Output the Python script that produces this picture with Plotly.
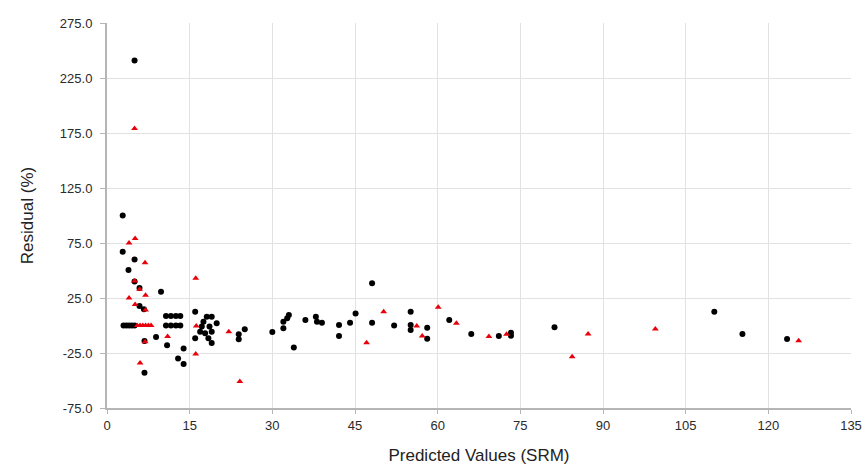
import plotly.graph_objects as go

# Series 1 (black circles): predicted value vs residual (%)
black_x = [2.85, 5.0, 2.85, 5.0, 3.9, 5.0, 5.9, 5.9, 6.7, 9.8,
           3.0, 3.5, 4.0, 4.5, 5.0,
           10.7, 11.6, 12.5, 13.3,
           10.7, 11.6, 12.5, 13.3,
           6.8, 8.9, 10.9, 12.9, 13.9, 13.9, 6.8,
           16.0, 16.0,
           18.1, 19.0, 17.5, 19.9, 17.2, 18.6, 16.9, 17.8, 19.0, 18.4, 19.0,
           23.9, 23.9, 25.0,
           30.0, 32.0, 32.0, 32.7, 33.0, 33.9,
           36.0, 37.9, 38.1, 39.0,
           42.1, 42.1, 44.1, 45.1, 48.1, 48.1, 52.1, 55.1, 55.1, 55.1,
           58.1, 58.1, 62.1, 66.1, 71.1, 73.3, 73.3, 81.2,
           110.2, 115.3, 123.4]
black_y = [100.0, 241.0, 67.0, 60.0, 50.5, 40.0, 34.0, 17.7, 14.7, 30.7,
           0.0, 0.0, 0.0, 0.0, 0.0,
           0.0, 0.0, 0.0, 0.0,
           8.6, 8.6, 8.6, 8.6,
           -14.0, -10.5, -18.0, -30.0, -21.0, -35.0, -43.0,
           12.5, -11.6,
           8.0, 8.0, 3.5, 2.0, -1.0, -1.0, -5.6, -7.0, -5.6, -11.6, -16.0,
           -8.0, -12.5, -3.5,
           -6.0, -2.5, 3.5, 6.5, 9.5, -20.0,
           5.0, 8.0, 3.5, 2.5,
           0.5, -9.5, 2.5, 11.0, 38.3, 2.5, 0.0, 12.5, 0.5, -4.0,
           -2.0, -12.0, 5.0, -7.7, -9.5, -6.5, -9.3, -1.7,
           12.5, -7.7, -12.3]

# Series 2 (red triangles)
red_x = [5.0, 4.0, 5.1, 6.9, 5.0, 5.9, 16.1, 4.0, 5.1, 7.0, 7.0,
         5.5, 6.0, 6.5, 7.0, 7.5, 8.0,
         6.9, 11.0, 16.2, 16.1, 6.0, 24.1, 22.1,
         47.1, 50.2, 56.2, 57.2, 60.1, 63.4, 69.3, 72.5,
         84.4, 87.3, 99.5, 125.5]
red_y = [179.0, 75.0, 79.0, 57.0, 40.5, 33.0, 43.0, 25.0, 19.0, 27.5, 14.0,
         0.0, 0.0, 0.0, 0.0, 0.0, 0.0,
         -14.7, -10.0, -0.5, -26.0, -34.0, -51.0, -5.6,
         -15.6, 12.5, -0.5, -9.5, 16.5, 2.0, -10.0, -8.0,
         -28.3, -7.7, -3.2, -13.8]

x_ticks = list(range(0, 136, 15))
y_ticks = [-75, -25, 25, 75, 125, 175, 225, 275]

fig = go.Figure()
fig.add_trace(go.Scatter(
    x=black_x, y=black_y, mode="markers",
    marker=dict(symbol="circle", size=6, color="#000000"),
    showlegend=False,
))
fig.add_trace(go.Scatter(
    x=red_x, y=red_y, mode="markers",
    marker=dict(symbol="triangle-up", size=6, color="#e8000b"),
    showlegend=False,
))

font_family = "Liberation Sans, Arial, sans-serif"

fig.update_layout(
    width=866, height=471,
    margin=dict(l=107, r=15, t=23, b=63),
    paper_bgcolor="white", plot_bgcolor="white",
    font=dict(family=font_family, color="#333333"),
    xaxis=dict(
        range=[0, 135], tickvals=x_ticks, ticktext=[str(v) for v in x_ticks],
        automargin=False,
        showgrid=True, gridcolor="#e2e2e2", gridwidth=1,
        showline=True, linecolor="#b5b5b5", linewidth=2, mirror=False,
        ticks="outside", ticklen=4, tickcolor="#b5b5b5",
        tickfont=dict(size=13, color="#2a2a2a"),
        title=dict(text="Predicted Values (SRM)", font=dict(size=17, color="#222222"), standoff=18),
        zeroline=False,
    ),
    yaxis=dict(
        range=[-75, 275], tickvals=y_ticks, ticktext=[f"{v:.1f}" for v in y_ticks],
        automargin=False,
        showgrid=True, gridcolor="#e2e2e2", gridwidth=1,
        showline=True, linecolor="#b5b5b5", linewidth=2,
        ticks="outside", ticklen=5, tickcolor="#b5b5b5",
        ticklabelstandoff=5,
        tickfont=dict(size=13, color="#2a2a2a"),
        title=dict(text="Residual (%)", font=dict(size=17, color="#222222"), standoff=22),
        zeroline=False,
    ),
)

fig.write_html("out.html")
